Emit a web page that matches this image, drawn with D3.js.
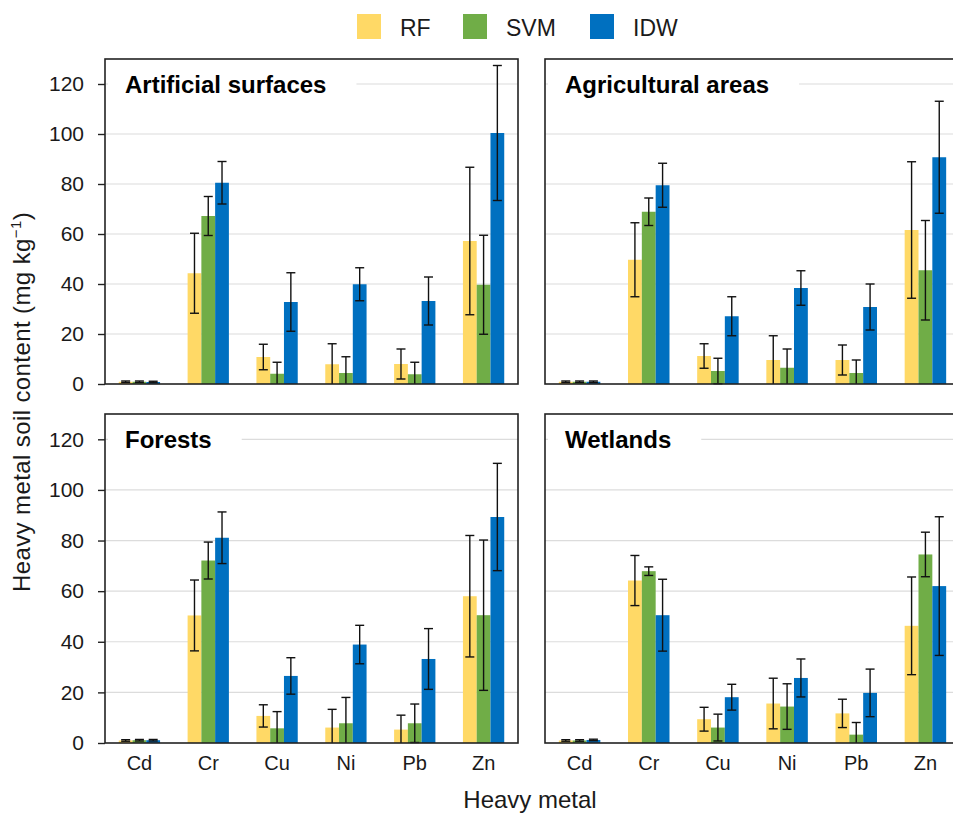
<!DOCTYPE html>
<html>
<head>
<meta charset="utf-8">
<script src="https://cdn.jsdelivr.net/npm/d3@7"></script>
<style>
  html, body { margin: 0; padding: 0; background: #fff; }
  svg { display: block; font-family: "Liberation Sans", Arial, sans-serif; }
</style>
</head>
<body>
<svg id="chart" width="953" height="813"></svg>
<script>
// Heavy metals on the x axis, one bar per prediction method
const metals = ["Cd", "Cr", "Cu", "Ni", "Pb", "Zn"];
const methods = ["RF", "SVM", "IDW"];
const methodColors = ["#FFD966", "#70AD47", "#0070C0"];
const yTicks = [0, 20, 40, 60, 80, 100, 120];
const landCovers = ["Artificial surfaces", "Agricultural areas", "Forests", "Wetlands"];

// Mean content (mg kg-1) per land cover: rows = RF, SVM, IDW; columns follow `metals`
const artificialMean = [
  [0.9, 44.3, 10.8, 7.9, 8.0, 57.2],
  [0.9, 67.2, 4.1, 4.4, 3.9, 39.7],
  [0.8, 80.5, 32.8, 39.9, 33.2, 100.4]
];
const artificialSd = [
  [0.3, 16.0, 5.1, 8.2, 6.0, 29.5],
  [0.3, 7.8, 4.6, 6.5, 4.8, 19.8],
  [0.3, 8.5, 11.7, 6.6, 9.6, 27.0]
];
const agriculturalMean = [
  [0.9, 49.7, 11.2, 9.6, 9.6, 61.6],
  [0.9, 68.9, 5.2, 6.5, 4.4, 45.5],
  [0.9, 79.5, 27.1, 38.4, 30.8, 90.7]
];
const agriculturalSd = [
  [0.3, 14.8, 4.9, 9.7, 6.0, 27.3],
  [0.3, 5.5, 5.1, 7.5, 5.2, 19.9],
  [0.3, 8.8, 7.8, 6.9, 9.2, 22.4]
];
const forestMean = [
  [1.0, 50.4, 10.7, 6.1, 5.3, 58.0],
  [1.1, 72.1, 5.8, 7.8, 7.8, 50.5],
  [1.1, 81.1, 26.5, 38.9, 33.2, 89.3]
];
const forestSd = [
  [0.3, 14.0, 4.4, 7.2, 5.7, 24.0],
  [0.3, 7.3, 6.6, 10.2, 7.6, 29.7],
  [0.3, 10.2, 7.2, 7.6, 12.0, 21.2]
];
const wetlandMean = [
  [1.0, 64.2, 9.4, 15.6, 11.7, 46.3],
  [1.0, 67.9, 6.1, 14.4, 3.3, 74.5],
  [1.2, 50.5, 18.1, 25.7, 19.8, 62.0]
];
const wetlandSd = [
  [0.3, 9.9, 4.7, 10.0, 5.6, 19.3],
  [0.3, 1.7, 5.3, 9.0, 4.8, 8.8],
  [0.3, 14.2, 5.1, 7.5, 9.4, 27.4]
];

const panelMeans = [artificialMean, agriculturalMean, forestMean, wetlandMean];
const panelSds = [artificialSd, agriculturalSd, forestSd, wetlandSd];

const svg = d3.select("#chart");

// Panel frames: [left, top, width, height]
const panelBoxes = [
  [105, 59, 413, 325],
  [545, 59, 415, 325],
  [105, 414, 413, 329],
  [545, 414, 415, 329]
];

const color = d3.scaleOrdinal().domain(methods).range(methodColors);

panelBoxes.forEach((box, p) => {
  const [left, top, w, h] = box;
  const g = svg.append("g").attr("transform", `translate(${left},${top})`);
  const x = d3.scaleBand().domain(metals).range([0, w]).paddingInner(0.4).paddingOuter(0.2);
  const xs = d3.scaleBand().domain(methods).range([0, x.bandwidth()]).padding(0);
  const y = d3.scaleLinear().domain([0, 130]).range([h, 0]);

  // horizontal gridlines
  g.append("g").selectAll("line").data(yTicks.filter(t => t > 0)).join("line")
    .attr("x1", 0).attr("x2", w)
    .attr("y1", d => y(d)).attr("y2", d => y(d))
    .attr("stroke", "#dcdcdc").attr("stroke-width", 1.2);

  // bars
  const rows = [];
  methods.forEach((m, si) => metals.forEach((mt, ci) => {
    rows.push({ metal: mt, method: m, v: panelMeans[p][si][ci], sd: panelSds[p][si][ci] });
  }));

  g.append("g").selectAll("rect").data(rows).join("rect")
    .attr("x", d => x(d.metal) + xs(d.method))
    .attr("width", xs.bandwidth())
    .attr("y", d => y(d.v))
    .attr("height", d => h - y(d.v))
    .attr("fill", d => color(d.method));

  // error bars
  const eb = g.append("g").attr("stroke", "#111").attr("stroke-width", 1.4).attr("fill", "none");
  const capHalf = 4.5;
  rows.forEach(d => {
    const cx = x(d.metal) + xs(d.method) + xs.bandwidth() / 2;
    const hi = d.v + d.sd;
    const lo = Math.max(0, d.v - d.sd);
    eb.append("line").attr("x1", cx).attr("x2", cx).attr("y1", y(hi)).attr("y2", y(lo));
    eb.append("line").attr("x1", cx - capHalf).attr("x2", cx + capHalf).attr("y1", y(hi)).attr("y2", y(hi));
    if (d.v - d.sd > 0) {
      eb.append("line").attr("x1", cx - capHalf).attr("x2", cx + capHalf).attr("y1", y(lo)).attr("y2", y(lo));
    }
  });

  // panel title on a white backing that hides the gridline behind it
  const title = g.append("text")
    .attr("x", 20).attr("y", y(120) + 8.5)
    .attr("font-size", 24).attr("font-weight", "bold").attr("fill", "#000")
    .text(landCovers[p]);
  const tw = title.node().getComputedTextLength();
  g.insert("rect", "text")
    .attr("x", 3).attr("y", y(120) - 14).attr("width", 20 + tw + 27).attr("height", 26)
    .attr("fill", "#fff");

  // frame
  g.append("rect").attr("x", 0).attr("y", 0).attr("width", w).attr("height", h)
    .attr("fill", "none").attr("stroke", "#222").attr("stroke-width", 1.6);

  // y axis with labels on the left panels only
  if (p % 2 === 0) {
    const ya = g.append("g").call(d3.axisLeft(y).tickValues(yTicks).tickSize(7).tickPadding(14));
    ya.select(".domain").remove();
    ya.selectAll(".tick line").attr("stroke", "#222").attr("stroke-width", 1.4);
    ya.selectAll(".tick text").attr("font-size", 21).attr("fill", "#1a1a1a")
      .attr("font-family", "Liberation Sans, Arial, sans-serif");
  }

  // x axis labels on the bottom panels only
  if (p >= 2) {
    const xa = g.append("g").attr("transform", `translate(0,${h})`)
      .call(d3.axisBottom(x).tickSize(0).tickPadding(13));
    xa.select(".domain").remove();
    xa.selectAll(".tick text").attr("font-size", 20).attr("fill", "#1a1a1a")
      .attr("font-family", "Liberation Sans, Arial, sans-serif");
  }
});

// legend
const legendX = [357, 463, 590];
const legend = svg.append("g");
methods.forEach((m, i) => {
  legend.append("rect").attr("x", legendX[i]).attr("y", 14).attr("width", 24).attr("height", 25)
    .attr("fill", color(m));
  legend.append("text").attr("x", legendX[i] + 43).attr("y", 35.5)
    .attr("font-size", 23).attr("fill", "#1a1a1a").text(m);
});

// axis titles
svg.append("text")
  .attr("x", 530).attr("y", 808)
  .attr("text-anchor", "middle").attr("font-size", 24).attr("fill", "#1a1a1a")
  .text("Heavy metal");

const yTitle = svg.append("text")
  .attr("transform", "translate(30,402) rotate(-90)")
  .attr("text-anchor", "middle").attr("font-size", 24).attr("letter-spacing", 0.4)
  .attr("fill", "#1a1a1a");
yTitle.append("tspan").text("Heavy metal soil content (mg kg");
yTitle.append("tspan").attr("dy", -9).attr("font-size", 15).text("\u22121");
yTitle.append("tspan").attr("dy", 9).text(")");
</script>
</body>
</html>
